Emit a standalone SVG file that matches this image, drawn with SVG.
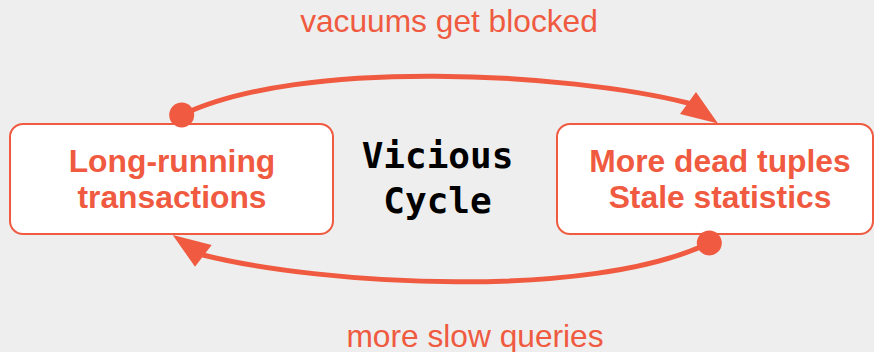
<svg xmlns="http://www.w3.org/2000/svg" width="874" height="352" viewBox="0 0 874 352">
  <style>
    .box { fill: #ffffff; stroke: #ef5a40; stroke-width: 2; }
    .label { font-family: "Liberation Sans", Arial, sans-serif; font-weight: bold; font-size: 31.8px; fill: #ef5a40; text-anchor: middle; }
    .edge-label { font-family: "Liberation Sans", Arial, sans-serif; font-size: 31.7px; fill: #ef5a40; text-anchor: middle; }
    .title { font-family: "DejaVu Sans Mono", monospace; font-weight: bold; font-size: 36px; fill: #000000; text-anchor: middle; }
    .wire { fill: none; stroke: #ef5a40; stroke-width: 5; stroke-linecap: round; }
    .head { fill: #ef5a40; }
  </style>
  <rect width="874" height="352" fill="#eeeeee"/>

  <g id="node-long-running">
    <rect class="box" x="10" y="124" width="323" height="110" rx="13"/>
    <text class="label" x="172" y="172">Long-running</text>
    <text class="label" x="172" y="208">transactions</text>
  </g>

  <g id="node-dead-tuples">
    <rect class="box" x="557" y="124" width="316" height="110" rx="13"/>
    <text class="label" x="720" y="172">More dead tuples</text>
    <text class="label" x="720" y="208">Stale statistics</text>
  </g>

  <g id="center-title">
    <text class="title" x="437.5" y="168">Vicious</text>
    <text class="title" x="437.5" y="213">Cycle</text>
  </g>

  <g id="connectors">
    <!-- upper arc: transactions -> dead tuples -->
    <path class="wire" d="M181.7,115 C301.7,57.4 568,73 688,103"/>
    <circle class="head" cx="181.7" cy="115" r="12.5"/>
    <polygon class="head" points="718,123.5 696,92 680,114"/>
    <!-- lower arc: dead tuples -> transactions -->
    <path class="wire" d="M709.3,243 C589.3,300.6 323,285 203,255"/>
    <circle class="head" cx="709.3" cy="243" r="12.5"/>
    <polygon class="head" points="172.7,235 211.7,245 195,266.7"/>
  </g>

  <g id="edge-labels">
    <text class="edge-label" x="449" y="32">vacuums get blocked</text>
    <text class="edge-label" x="475" y="346.5">more slow queries</text>
  </g>
</svg>
